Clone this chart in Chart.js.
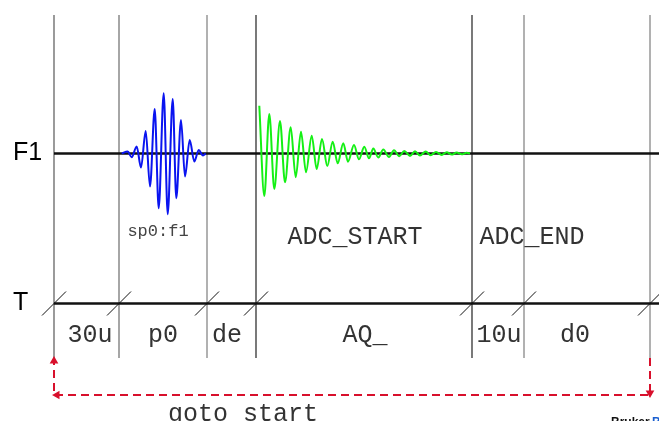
<!DOCTYPE html>
<html>
<head>
<meta charset="utf-8">
<script src="https://cdn.jsdelivr.net/npm/chart.js@4.4.1/dist/chart.umd.min.js"></script>
<style>
html,body{margin:0;padding:0;background:#fff;}
#wrap{position:relative;width:659px;height:421px;}
</style>
</head>
<body>
<div id="wrap"><canvas id="c"></canvas></div>
<script>
// Timeline event boundaries (diagram x units)
const boundaries = [54, 119, 207, 256, 472, 524, 650];
const segmentLabels = ['30u', 'p0', 'de', 'AQ_', '10u', 'd0'];
const segmentLabelX = [90, 163, 227, 365, 499, 575];
const channelNames = ['F1', 'T'];
const channelLevels = [0, -150];

// Shaped pulse sp0:f1 (extrema): x, amplitude
const pulseX = [121.7,127.7,131.7,136.7,141,145.7,150,154.7,158.7,163.7,167.7,172.7,176.3,181,185,189.7,194.3,198.7,203,205.7];
const pulseAmp = [0,2,-3.7,7,-14,22.6,-33,44.6,-54.7,60.3,-60.7,54.6,-44.7,33.6,-23,13.6,-8,3.6,-2,0];

// FID during acquisition (extrema)
const fidX = [259.3,264.3,269.3,274.3,280,285,290.7,295.7,301,306,311.7,316.7,322,327.3,332.7,337.7,343.3,348,354,359,364.3,369,373.3,378.3,383.3,389,394,399.3,404.3,410,415,420,425.7,430.7,436,441.7,446.7,451.7,456.7,461.7,466.7,470];
const fidAmp = [47.8,-42.5,39.5,-35.5,32.5,-28.8,26.2,-23.8,21.8,-18.8,17.8,-15.5,14.5,-12.5,11.8,-9.8,10.2,-8.2,8.5,-5.8,6.8,-4.8,5,-4,4,-3.4,3.3,-2.7,2.6,-2.4,2.3,-2,2,-1.7,1.6,-1.4,1.3,-1.1,1,-0.8,0.7,0];

// Text annotations on the F1 row
const f1Labels = ['sp0:f1', 'ADC_START', 'ADC_END'];
const f1LabelX = [158, 355, 532];
const loopLabel = 'goto start';

// Geometry (diagram units)
const X_MIN = 0, X_MAX = 659, Y_MIN = -267.5, Y_MAX = 153.5;
const lineTop = 138.5, lineBottom = -204.5;
const loopY = -241.5, loopTopLeft = -207.5;

const datasets = [];
const vColors = ['#666','#777','#888','#333','#333','#888','#888'];
boundaries.forEach((b, i) => {
  datasets.push({data:[{x:b,y:lineTop},{x:b,y:lineBottom}], borderColor:vColors[i], borderWidth:1.3, pointRadius:0, order:5});
  // slash tick marks on the T line
  const t = channelLevels[1];
  datasets.push({data:[{x:b-12,y:t-12},{x:b+12,y:t+12}], borderColor:'#111', borderWidth:1, pointRadius:0, order:4});
});
channelLevels.forEach(lv => {
  datasets.push({data:[{x:boundaries[0],y:lv},{x:X_MAX,y:lv}], borderColor:'#111', borderWidth:2.5, pointRadius:0, order:3});
});
datasets.push({
  data: pulseX.map((x,i)=>({x, y:pulseAmp[i]})),
  borderColor:'#0a14f0', borderWidth:2, pointRadius:0, cubicInterpolationMode:'monotone', order:1
});
datasets.push({
  data: fidX.map((x,i)=>({x, y:fidAmp[i]})),
  borderColor:'#14f014', borderWidth:2, pointRadius:0, cubicInterpolationMode:'monotone', order:1
});
// goto loop (red dashed)
const last = boundaries[boundaries.length-1], first = boundaries[0];
datasets.push({
  data:[{x:last,y:lineBottom},{x:last,y:loopY+2},{x:last,y:loopY},{x:first+3,y:loopY},{x:first,y:loopY},{x:first,y:loopTopLeft}],
  borderColor:'#d8102c', borderWidth:2, borderDash:[8,5], pointRadius:[0,3,0,3,0,3],
  pointStyle:'triangle', rotation:[0,180,0,270,0,0], pointBackgroundColor:'#d8102c', pointBorderColor:'#d8102c', order:2
});

const textPlugin = {
  id:'texts',
  afterDatasetsDraw(chart){
    const ctx = chart.ctx, xs = chart.scales.x, ys = chart.scales.y;
    ctx.save();
    ctx.textBaseline = 'middle';
    ctx.textAlign = 'left';
    ctx.fillStyle = '#000';
    ctx.font = '25px "Liberation Sans", Arial, sans-serif';
    channelNames.forEach((n,i)=>{
      ctx.fillText(n, 13, ys.getPixelForValue(channelLevels[i]));
    });
    ctx.textAlign = 'center';
    ctx.fillStyle = '#333';
    ctx.font = '25px "Liberation Mono", "Courier New", monospace';
    segmentLabels.forEach((s,i)=>{
      ctx.fillText(s, xs.getPixelForValue(segmentLabelX[i]), ys.getPixelForValue(-182));
    });
    ctx.fillText(f1Labels[1], xs.getPixelForValue(f1LabelX[1]), ys.getPixelForValue(-84));
    ctx.fillText(f1Labels[2], xs.getPixelForValue(f1LabelX[2]), ys.getPixelForValue(-84));
    ctx.fillText(loopLabel, xs.getPixelForValue(243), ys.getPixelForValue(-261));
    ctx.fillStyle = '#444';
    ctx.font = '17px "Liberation Mono", "Courier New", monospace';
    ctx.fillText(f1Labels[0], xs.getPixelForValue(f1LabelX[0]), ys.getPixelForValue(-78));
    ctx.textAlign = 'left';
    ctx.textBaseline = 'alphabetic';
    ctx.font = 'bold 12px "Liberation Sans", Arial, sans-serif';
    ctx.fillStyle = '#111';
    ctx.fillText('Bruker', 611, 426);
    ctx.fillStyle = '#1a5fd0';
    ctx.fillText('B', 652, 426);
    ctx.restore();
  }
};

new Chart(document.getElementById('c'), {
  type:'line',
  data:{datasets},
  options:{
    responsive:true, maintainAspectRatio:false, animation:false,
    layout:{padding:0, autoPadding:false},
    plugins:{legend:{display:false}, tooltip:{enabled:false}},
    elements:{line:{tension:0}},
    scales:{
      x:{type:'linear', min:X_MIN, max:X_MAX, display:false},
      y:{type:'linear', min:Y_MIN, max:Y_MAX, display:false}
    }
  },
  plugins:[textPlugin]
});
</script>
</body>
</html>
